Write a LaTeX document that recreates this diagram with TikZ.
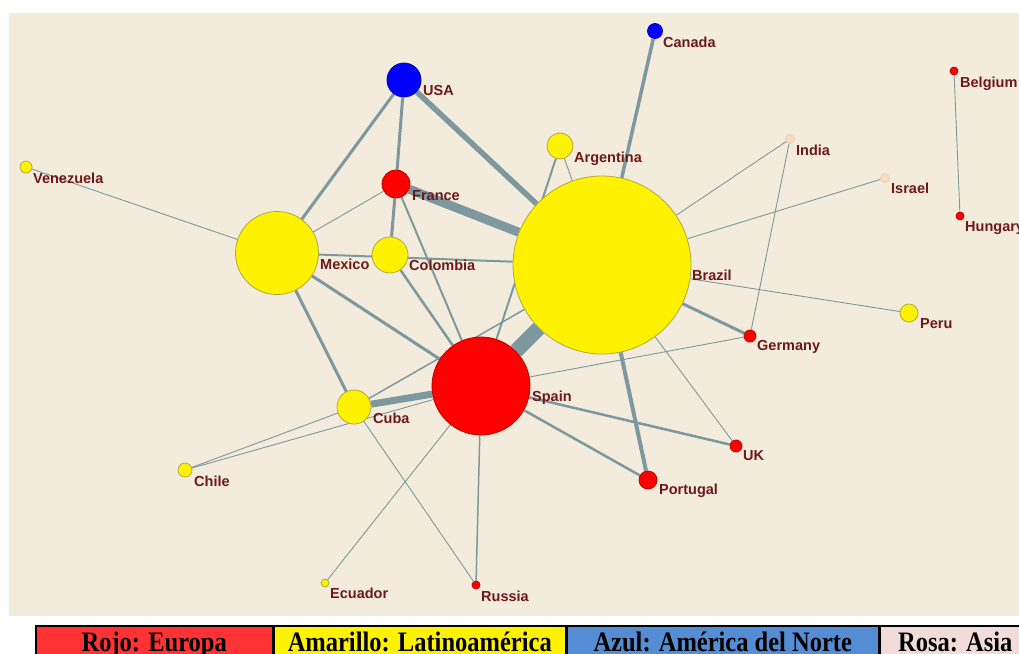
\documentclass[tikz,border=0pt]{standalone}
\usepackage{fontspec}
\setmainfont{Liberation Serif}
\newfontfamily\labfont{Liberation Sans}
\usetikzlibrary{backgrounds}
\definecolor{fondo}{RGB}{243,236,221}
\definecolor{arista}{RGB}{125,152,158}
\definecolor{etiq}{RGB}{110,24,24}
\definecolor{rosa}{RGB}{246,220,192}
\definecolor{rojoley}{RGB}{255,51,51}
\definecolor{azulley}{RGB}{84,141,212}
\definecolor{rosaley}{RGB}{242,220,219}
\tikzset{
  pais/.style={circle, inner sep=0pt, line width=0.8pt},
  eur/.style={pais, fill=red, draw=red!75!black},
  lat/.style={pais, fill=yellow, draw=yellow!65!black},
  nam/.style={pais, fill=blue, draw=blue!70!black},
  asi/.style={pais, fill=rosa, draw=rosa!85!brown},
  nombre/.style={anchor=base west, inner sep=0pt, text=etiq,
    font=\labfont\bfseries\fontsize{14.5}{14.5}\selectfont},
  celda/.style={draw=black, line width=1.5pt, anchor=north west,
    minimum height=36pt, text height=19pt, text depth=3pt, inner sep=0pt,
    font=\bfseries\fontsize{24.5}{25}\selectfont},
}
\begin{document}
\begin{tikzpicture}[x=1pt, y=-1pt]
  \useasboundingbox (0,0) rectangle (1019,653);
  \clip (0,0) rectangle (1019,653);
  % paises
  \foreach \n/\x/\y/\d/\s in {US/404/80/34/nam, CA/655/31/15/nam,
      BE/954/71/8/eur, HU/960/216/8/eur, AR/560/146/26/lat,
      IN/790/139/9/asi, IL/885/178/9/asi, VE/26/167/12/lat,
      FR/396/184/28/eur, MX/277/253/83/lat, CO/390/255/36/lat,
      BR/602/265/178/lat, PE/909/313/18/lat, DE/750/336/12/eur,
      ES/481/386/98/eur, CU/354/407/34/lat, UK/736/446/12/eur,
      PT/648/480/18/eur, CL/185/470/14/lat, EC/325/583/8/lat,
      RU/476/585/8/eur}
    \node[\s, minimum size=\d pt] (\n) at (\x,\y) {};
  % nombres
  \foreach \n/\t/\x/\y in {US/USA/423/95, CA/Canada/663/47,
      BE/Belgium/960/87, HU/Hungary/965/231, AR/Argentina/574/162,
      IN/India/796/155, IL/Israel/891/193, VE/Venezuela/33/183,
      FR/France/412/200, MX/Mexico/320/269, CO/Colombia/409/270,
      BR/Brazil/692/280, PE/Peru/920/328, DE/Germany/757/350,
      ES/Spain/532/401, CU/Cuba/373/423, UK/UK/743/460,
      PT/Portugal/659/494, CL/Chile/194/486, EC/Ecuador/330/598,
      RU/Russia/481/601}
    \node[nombre] (l\n) at (\x,\y) {\t};
  % aristas
  \begin{scope}[on background layer]
    \fill[fondo] (9,13) rectangle (1019,616);
    \draw[arista, line width=15pt] (BR) -- (ES);
    \draw[arista, line width=9pt] (FR) -- (BR);
    \draw[arista, line width=7pt] (CU) -- (ES);
    \draw[arista, line width=5.5pt] (US) -- (BR);
    \draw[arista, line width=4pt] (BR) -- (PT);
    \draw[arista, line width=3.5pt] (CA) -- (BR);
    \foreach \a/\b in {US/MX, US/FR, MX/CU, MX/ES, FR/CO, BR/DE}
      \draw[arista, line width=3pt] (\a) -- (\b);
    \foreach \a/\b in {ES/UK, ES/PT, CO/ES}
      \draw[arista, line width=2.5pt] (\a) -- (\b);
    \foreach \a/\b in {MX/BR, FR/ES, AR/ES}
      \draw[arista, line width=2pt] (\a) -- (\b);
    \foreach \a/\b in {CU/BR, ES/RU}
      \draw[arista, line width=1.5pt] (\a) -- (\b);
    \foreach \a/\b in {FR/MX, VE/MX, AR/BR, BR/IN, BR/IL, BR/PE, BR/UK,
        DE/IN, ES/DE, CL/CU, CL/ES, CU/RU, ES/EC, BE/HU}
      \draw[arista, line width=0.9pt] (\a) -- (\b);
  \end{scope}
  % leyenda
  \node[celda, fill=rojoley, minimum width=237pt] (rojo) at (35,625)
    {\scalebox{1}[1.15]{Rojo: Europa}};
  \node[celda, fill=yellow, minimum width=291pt] (amar) at (rojo.north east)
    {\scalebox{1}[1.15]{Amarillo: Latinoamérica}};
  \node[celda, fill=azulley, minimum width=312pt] (azul) at (amar.north east)
    {\scalebox{1}[1.15]{Azul: América del Norte}};
  \node[celda, fill=rosaley, minimum width=150pt] (rosa) at (azul.north east)
    {\scalebox{1}[1.15]{Rosa: Asia}};
\end{tikzpicture}
\end{document}
